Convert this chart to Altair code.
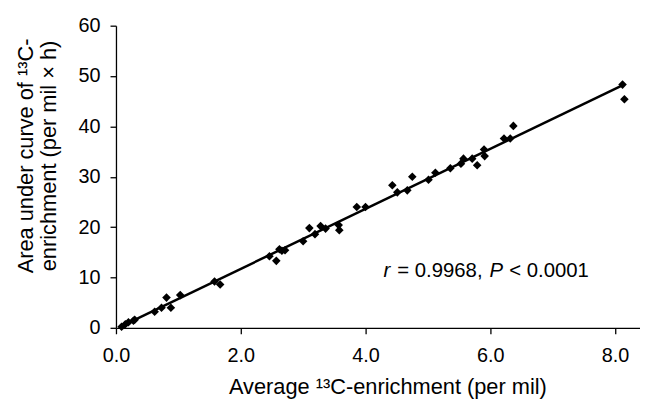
import altair as alt
import pandas as pd

# Data
x_vals = [0.09, 0.15, 0.20, 0.28, 0.30, 0.62, 0.73, 0.81, 0.88, 1.03,
          1.58, 1.67, 2.46, 2.57, 2.62, 2.66, 2.71, 3.00, 3.10, 3.19,
          3.28, 3.36, 3.57, 3.58, 3.86, 4.00, 4.43, 4.51, 4.67, 4.75,
          5.01, 5.12, 5.36, 5.53, 5.57, 5.71, 5.79, 5.90, 5.91, 6.22,
          6.32, 6.37, 8.12, 8.15]
y_vals = [0.2, 0.7, 1.1, 1.4, 1.6, 3.2, 4.0, 6.0, 4.0, 6.5,
          9.2, 8.6, 14.2, 13.3, 15.6, 15.3, 15.4, 17.2, 19.8, 18.6,
          20.2, 19.7, 20.4, 19.4, 24.0, 24.0, 28.3, 26.9, 27.3, 30.0,
          29.4, 30.8, 31.7, 32.6, 33.6, 33.6, 32.3, 35.4, 34.1, 37.6,
          37.6, 40.1, 48.3, 45.4]

x_ticks = [0, 2, 4, 6, 8]
y_ticks = [0, 10, 20, 30, 40, 50, 60]

ann_parts = ["r", "= 0.9968,", "P", "< 0.0001"]
ann_italic = [True, False, True, False]

df = pd.DataFrame({"x": x_vals, "y": y_vals})

FONT = "Liberation Sans"

x_enc = alt.X("x:Q",
              scale=alt.Scale(domain=[0, 8.4], nice=False, zero=False),
              axis=alt.Axis(values=x_ticks, format=".1f", labelFlush=False,
                            title="Average ¹³C-enrichment (per mil)",
                            titleX=274, titleY=66, titleBaseline="alphabetic",
                            titleAlign="center",
                            labelPadding=12, tickSize=6))
y_enc = alt.Y("y:Q",
              scale=alt.Scale(domain=[0, 60], nice=False),
              axis=alt.Axis(values=y_ticks, format="d", labelFlush=False,
                            title=["Area under curve of ¹³C-",
                                   "enrichment (per mil × h)"],
                            titleAngle=-90, titleX=-84, titleY=131,
                            titleBaseline="alphabetic", titleAlign="center",
                            titleLineHeight=23,
                            labelPadding=10, tickSize=6))

points = alt.Chart(df).mark_point(shape="diamond", filled=True, color="black",
                                  size=75, opacity=1).encode(x=x_enc, y=y_enc)

line = alt.Chart(df).transform_regression("x", "y").mark_line(
    color="black", strokeWidth=2.5).encode(x="x:Q", y="y:Q")

ann_x = [270, 284, 377, 397]
texts = []
for part, ital, px in zip(ann_parts, ann_italic, ann_x):
    tdf = pd.DataFrame({"t": [part]})
    t = alt.Chart(tdf).mark_text(
        align="left", baseline="alphabetic", fontSize=20.5, font=FONT,
        fontStyle="italic" if ital else "normal", color="black"
    ).encode(text="t:N", x=alt.value(px), y=alt.value(254))
    texts.append(t)

chart = alt.layer(line, points, *texts).properties(
    width=529, height=305,
    autosize=alt.AutoSizeParams(type="none"),
    padding={"left": 109, "top": 16, "right": 0, "bottom": 70},
).configure_view(stroke=None).configure_axis(
    grid=False, domainColor="black", domainWidth=1.3, tickColor="black",
    tickWidth=1.3, labelFont=FONT, labelFontSize=20, labelColor="black",
    titleFont=FONT, titleFontSize=22, titleFontWeight="normal",
    titleColor="black",
)

chart.save("out.html", embed_options={"renderer": "svg", "actions": False})
